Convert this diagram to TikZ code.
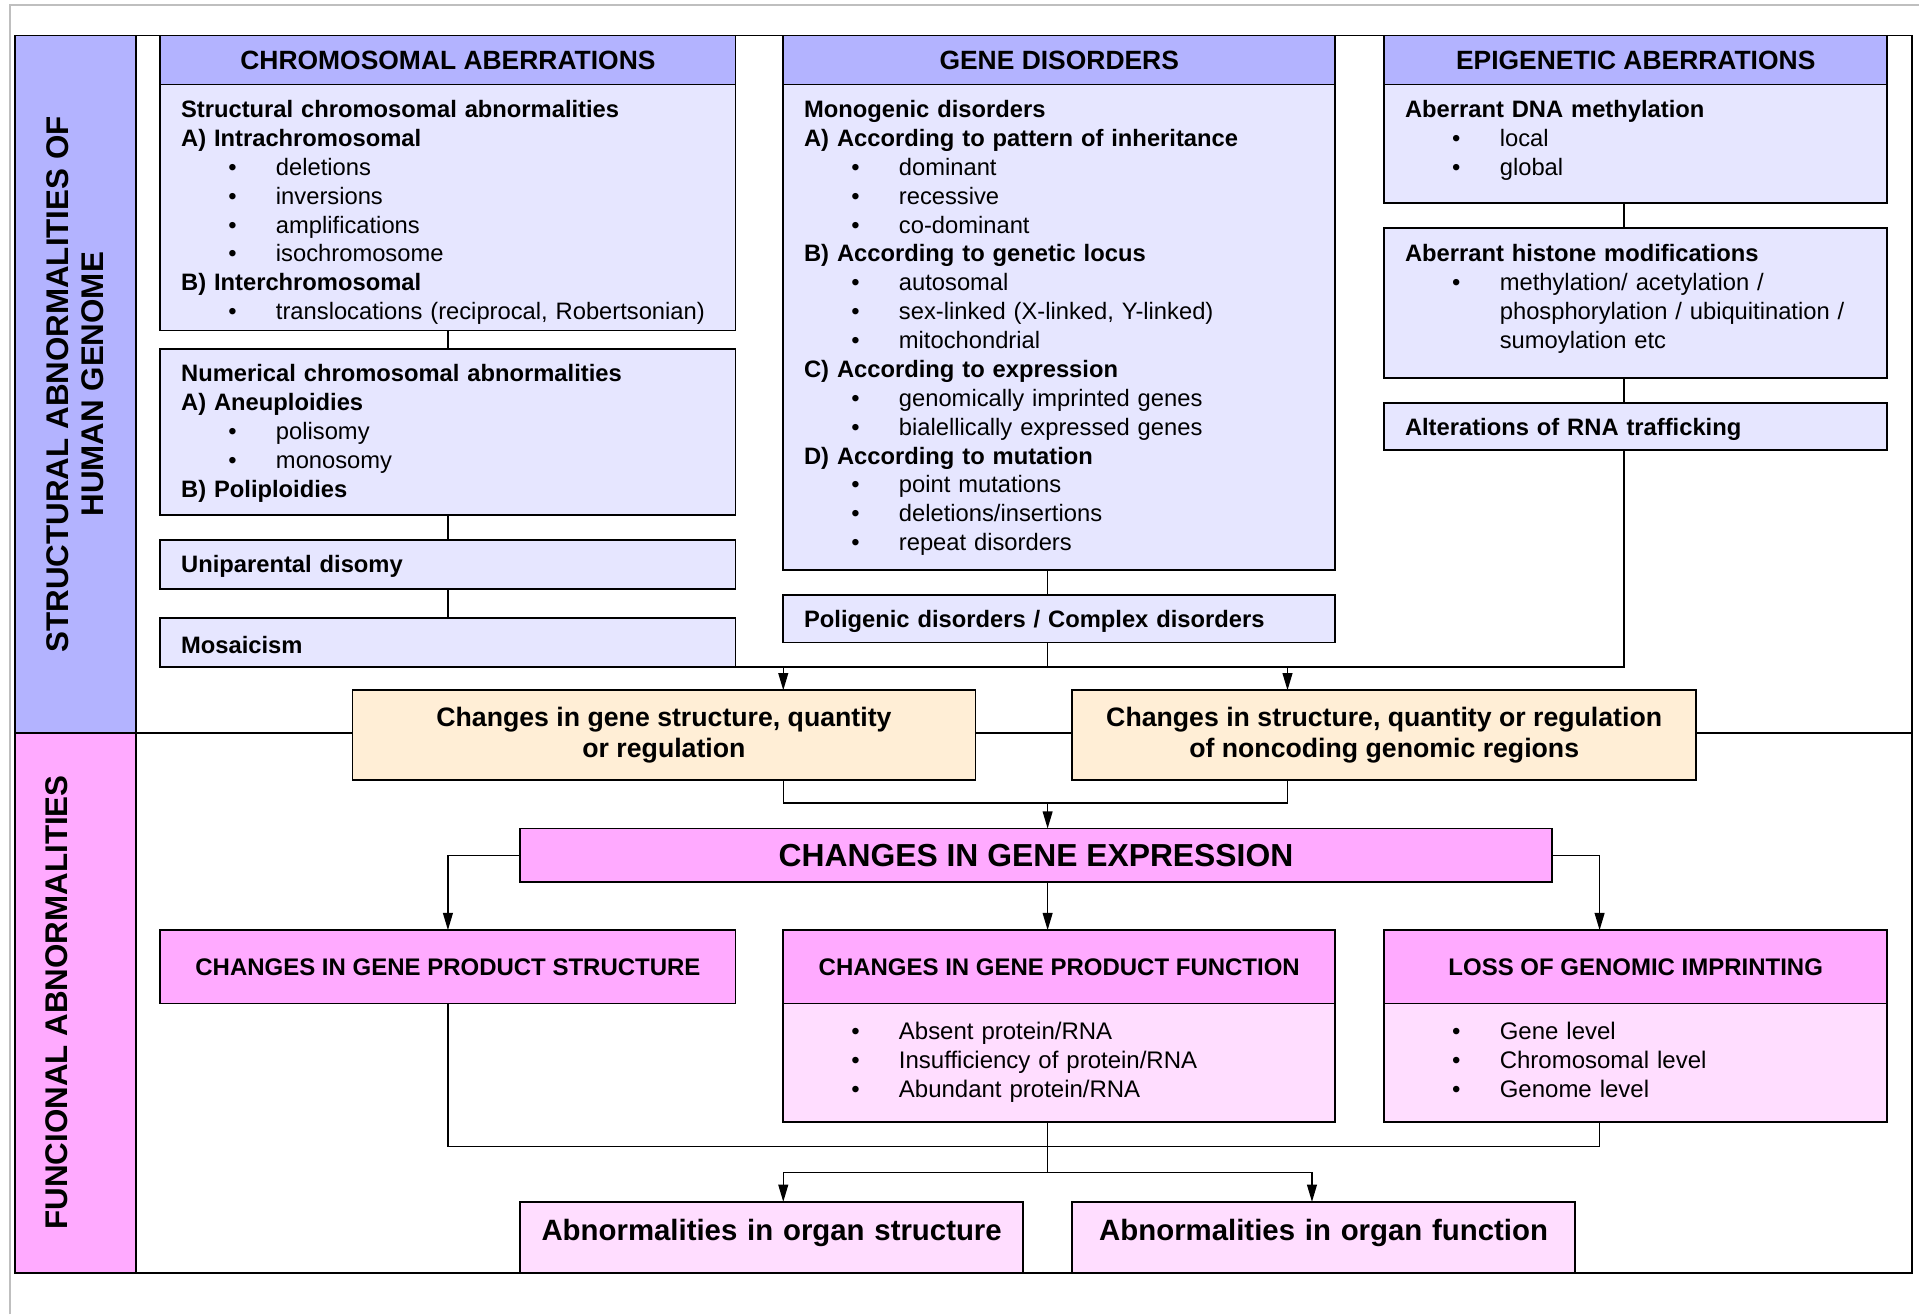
\documentclass[tikz,border=0pt]{standalone}
\usepackage{fontspec}
\setmainfont{Liberation Sans}
\usepackage{tikz}
\usetikzlibrary{arrows.meta,positioning}
\definecolor{hdrblue}{RGB}{179,179,255}
\definecolor{bodyblue}{RGB}{230,230,255}
\definecolor{peach}{RGB}{255,238,214}
\definecolor{pinkhdr}{RGB}{255,170,255}
\definecolor{pinkbody}{RGB}{255,221,255}
\newcommand{\itm}[1]{\hspace*{19.3pt}\makebox[19.45pt][l]{\textbullet}#1}
\newcommand{\cont}{\hspace*{38.75pt}}
\tikzset{
    hdr/.style={
           rectangle,
           draw=black, line width=0.75pt,
           fill=hdrblue,
           inner sep=0pt, outer sep=0pt,
           minimum height=20pt,
           text centered,
           font=\fontsize{10.8pt}{13pt}\selectfont\bfseries,
           },
    body/.style={
           rectangle,
           draw=black, line width=0.75pt,
           fill=bodyblue,
           inner xsep=8.5pt, inner ysep=0pt, outer sep=0pt,
           align=left,
           font=\fontsize{9.7pt}{11.8pt}\selectfont,
           },
    change/.style={
           rectangle,
           draw=black, line width=0.75pt,
           fill=peach,
           anchor=north west,
           outer sep=0pt,
           minimum height=36.5pt,
           align=center,
           font=\fontsize{10.9pt}{12.5pt}\selectfont\bfseries,
           },
    effect/.style={
           rectangle,
           draw=black, line width=0.75pt,
           fill=pinkbody,
           anchor=north west,
           inner sep=0pt, outer sep=0pt,
           text width=205.5pt,
           text height=16pt, text depth=13pt,
           align=center,
           font=\fontsize{12pt}{14pt}\selectfont\bfseries,
           },
    side/.style={
           rotate=90,
           align=center,
           font=\fontsize{12.8pt}{14.5pt}\selectfont\bfseries,
           },
    wire/.style={
           line width=0.6pt,},
    link/.style={
           ->,
           line width=0.6pt,}
}
\begin{document}
\begin{tikzpicture}[x=0.5pt,y=-0.5pt,>={Triangle[length=7pt,width=4pt]}]
\useasboundingbox (0,0) rectangle (1568,1074);
% PAGE AND FRAME
\draw[black!25, line width=1pt] (8,1074) |- (1568,4);
\fill[hdrblue] (12,29) rectangle (111,599);
\fill[pinkhdr] (12,599) rectangle (111,1040);
\draw[line width=0.75pt] (12,29) rectangle (1562,1040);
\draw[line width=0.75pt] (111,29) -- (111,1040);
\draw[line width=0.75pt] (12,599) -- (1562,599);
\node[side] (SIDETOP) at (61.5,314) {STRUCTURAL ABNORMALITIES OF\\HUMAN GENOME};
\node[side] (SIDEBOT) at (46,819) {FUNCIONAL ABNORMALITIES};
% axis coordinates of the connectors
\coordinate (mid) at (856,0);
\coordinate (epix) at (1327,0);
\coordinate (arrA) at (640,0);
\coordinate (arrB) at (1052,0);
\coordinate (arrC) at (1307,0);
\coordinate (arrD) at (1072,0);
\coordinate (bus2) at (856,656);
\coordinate (bus3) at (856,937);
\coordinate (bus4) at (856,958);
% CHROMOSOMAL ABERRATIONS (CHROM)
\node[hdr, anchor=north west, minimum width=235pt] (CHROM) at (131,29)
{CHROMOSOMAL ABERRATIONS};
\node[body, below=0pt of CHROM, text width=218pt,
text height=13.5pt, text depth=87pt] (STRUCT)
{\textbf{Structural chromosomal abnormalities}\\
\textbf{A) Intrachromosomal}\\
\itm{deletions}\\
\itm{inversions}\\
\itm{amplifications}\\
\itm{isochromosome}\\
\textbf{B) Interchromosomal}\\
\itm{translocations (reciprocal, Robertsonian)}};
\node[body, below=7.5pt of STRUCT, text width=218pt,
text height=13.5pt, text depth=54.5pt] (NUMER)
{\textbf{Numerical chromosomal abnormalities}\\
\textbf{A) Aneuploidies}\\
\itm{polisomy}\\
\itm{monosomy}\\
\textbf{B) Poliploidies}};
\node[body, below=10pt of NUMER, text width=218pt,
text height=13.5pt, text depth=6.5pt] (UNIPAR)
{\textbf{Uniparental disomy}};
\node[body, below=12pt of UNIPAR, text width=218pt,
text height=14.5pt, text depth=5.5pt] (MOSAIC)
{\textbf{Mosaicism}};
% GENE DISORDERS (GENE)
\node[hdr, anchor=north west, minimum width=225.5pt] (GENE) at (640,29)
{GENE DISORDERS};
\node[body, below=0pt of GENE, text width=208.5pt,
text height=13.5pt, text depth=185pt] (MONO)
{\textbf{Monogenic disorders}\\
\textbf{A) According to pattern of inheritance}\\
\itm{dominant}\\
\itm{recessive}\\
\itm{co-dominant}\\
\textbf{B) According to genetic locus}\\
\itm{autosomal}\\
\itm{sex-linked (X-linked, Y-linked)}\\
\itm{mitochondrial}\\
\textbf{C) According to expression}\\
\itm{genomically imprinted genes}\\
\itm{bialellically expressed genes}\\
\textbf{D) According to mutation}\\
\itm{point mutations}\\
\itm{deletions/insertions}\\
\itm{repeat disorders}};
\node[body, below=10pt of MONO, text width=208.5pt,
text height=13.5pt, text depth=6pt] (POLY)
{\textbf{Poligenic disorders / Complex disorders}};
% EPIGENETIC ABERRATIONS (EPI)
\node[hdr, anchor=north west, minimum width=205.5pt] (EPI) at (1131,29)
{EPIGENETIC ABERRATIONS};
\node[body, below=0pt of EPI, text width=188.5pt,
text height=13.5pt, text depth=35pt] (DNAMET)
{\textbf{Aberrant DNA methylation}\\
\itm{local}\\
\itm{global}};
\node[body, below=10pt of DNAMET, text width=188.5pt,
text height=14pt, text depth=47.5pt] (HISTONE)
{\textbf{Aberrant histone modifications}\\
\itm{methylation/ acetylation /}\\
\cont phosphorylation / ubiquitination /\\
\cont sumoylation etc};
\node[body, below=10pt of HISTONE, text width=188.5pt,
text height=13.5pt, text depth=6pt] (RNA)
{\textbf{Alterations of RNA trafficking}};
% Changes in genome regions (GSTRUCT, NONCOD)
\node[change, minimum width=254.5pt] (GSTRUCT) at (288,564)
{Changes in gene structure, quantity\\or regulation};
\node[change, minimum width=255pt] (NONCOD) at (876,564)
{Changes in structure, quantity or regulation\\of noncoding genomic regions};
% CHANGES IN GENE EXPRESSION (EXPR)
\node[hdr, anchor=north west, fill=pinkhdr, minimum width=421.5pt,
minimum height=22pt, font=\fontsize{13pt}{15pt}\selectfont\bfseries] (EXPR) at (425,677)
{CHANGES IN GENE EXPRESSION};
% Gene product and imprinting (PSTRUCT, PFUNC, IMPRINT)
\node[hdr, anchor=north west, fill=pinkhdr, minimum width=235pt, minimum height=30pt,
font=\fontsize{9.8pt}{12pt}\selectfont\bfseries] (PSTRUCT) at (131,760)
{CHANGES IN GENE PRODUCT STRUCTURE};
\node[hdr, anchor=north west, fill=pinkhdr, minimum width=225.5pt, minimum height=30pt,
font=\fontsize{9.8pt}{12pt}\selectfont\bfseries] (PFUNC) at (640,760)
{CHANGES IN GENE PRODUCT FUNCTION};
\node[body, fill=pinkbody, below=0pt of PFUNC, text width=208.5pt,
text height=14.5pt, text depth=34pt, font=\fontsize{9.8pt}{12pt}\selectfont] (PFUNCB)
{\itm{Absent protein/RNA}\\
\itm{Insufficiency of protein/RNA}\\
\itm{Abundant protein/RNA}};
\node[hdr, anchor=north west, fill=pinkhdr, minimum width=205.5pt, minimum height=30pt,
font=\fontsize{9.8pt}{12pt}\selectfont\bfseries] (IMPRINT) at (1131,760)
{LOSS OF GENOMIC IMPRINTING};
\node[body, fill=pinkbody, below=0pt of IMPRINT, text width=188.5pt,
text height=14.5pt, text depth=34pt, font=\fontsize{9.8pt}{12pt}\selectfont] (IMPRINTB)
{\itm{Gene level}\\
\itm{Chromosomal level}\\
\itm{Genome level}};
% Organ level (OSTRUCT, OFUNC)
\node[effect] (OSTRUCT) at (425,982) {Abnormalities in organ structure};
\node[effect] (OFUNC) at (876,982) {Abnormalities in organ function};
% Draw lines on graph
\draw[wire] (STRUCT) -- (NUMER);
\draw[wire] (NUMER) -- (UNIPAR);
\draw[wire] (UNIPAR) -- (MOSAIC);
\draw[wire] (MONO.south -| mid) -- (POLY.north -| mid);
\draw[wire] (DNAMET.south -| epix) -- (HISTONE.north -| epix);
\draw[wire] (HISTONE.south -| epix) -- (RNA.north -| epix);
\draw[wire] (RNA.south -| epix) |- (MOSAIC.south east);
\draw[wire] (POLY.south -| mid) -- (mid |- MOSAIC.south);
\draw[link] (arrA |- MOSAIC.south) -- (GSTRUCT.north -| arrA);
\draw[link] (arrB |- MOSAIC.south) -- (NONCOD.north -| arrB);
\draw[wire] (GSTRUCT.south -| arrA) |- (bus2) -| (NONCOD.south -| arrB);
\draw[link] (bus2) -- (EXPR.north -| mid);
\draw[link] (EXPR.west) -| (PSTRUCT.north);
\draw[link] (EXPR.east) -| (IMPRINT.north -| arrC);
\draw[link] (EXPR.south -| mid) -- (PFUNC.north -| mid);
\draw[wire] (PSTRUCT.south) |- (bus3) -| (IMPRINTB.south -| arrC);
\draw[wire] (PFUNCB.south -| mid) -- (bus4);
\draw[link] (bus4) -| (OSTRUCT.north -| arrA);
\draw[link] (bus4) -| (OFUNC.north -| arrD);
\end{tikzpicture}
\end{document}
